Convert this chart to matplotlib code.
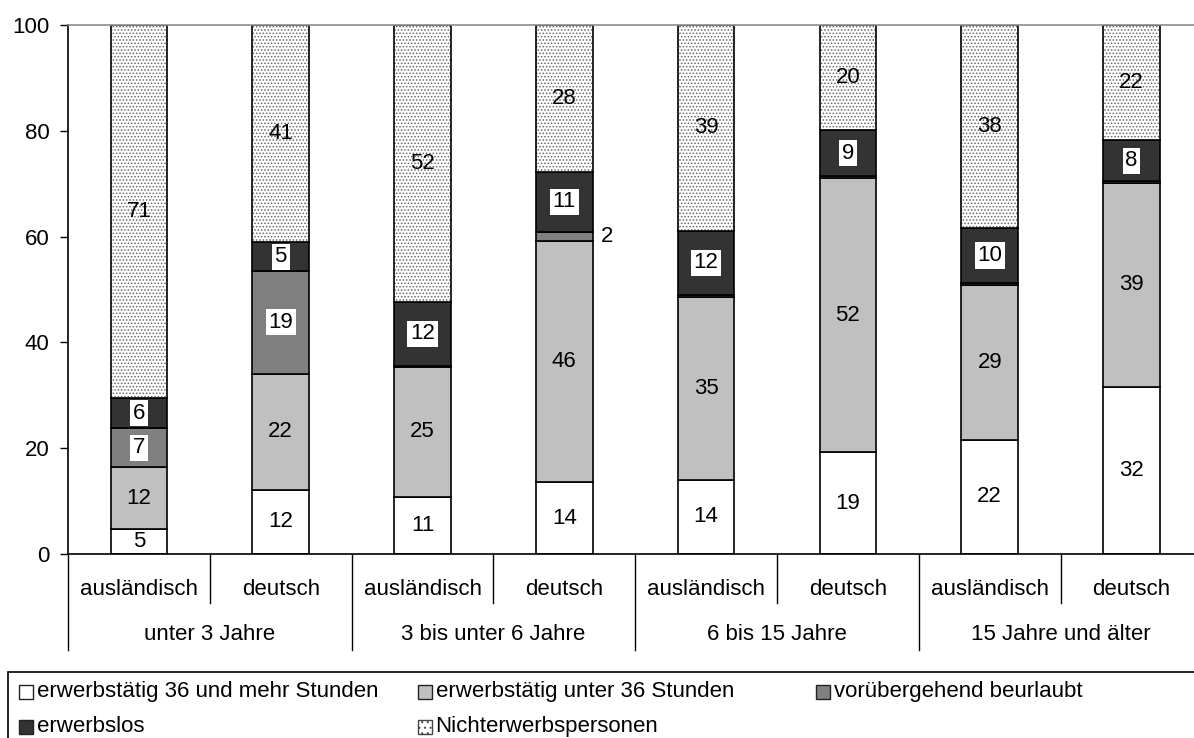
import matplotlib
matplotlib.use('Agg')
import matplotlib.pyplot as plt
from matplotlib.patches import Rectangle
import numpy as np

plt.rcParams['font.family'] = ['Liberation Sans', 'DejaVu Sans']
plt.rcParams['hatch.linewidth'] = 0.7

# Daten (Anteile in %)
gruppen = ['unter 3 Jahre', '3 bis unter 6 Jahre', '6 bis 15 Jahre', '15 Jahre und älter']
herkunft = ['ausländisch', 'deutsch']

voll = [4.7, 12.1, 10.8, 13.6, 14.0, 19.2, 21.6, 31.6]
teil = [11.7, 22.0, 24.6, 45.6, 34.6, 51.8, 29.2, 38.6]
beurl = [7.4, 19.4, 0.2, 1.7, 0.4, 0.4, 0.4, 0.3]
los = [5.6, 5.4, 12.0, 11.4, 12.1, 8.8, 10.4, 7.7]
nicht = [70.6, 41.1, 52.4, 27.7, 38.9, 19.8, 38.4, 21.8]

namen = ['erwerbstätig 36 und mehr Stunden', 'erwerbstätig unter 36 Stunden',
         'vorübergehend beurlaubt', 'erwerbslos', 'Nichterwerbspersonen']
farben = ['white', '#c0c0c0', '#808080', '#333333', 'white']

fs = 16
W, H = 1194, 738
fig = plt.figure(figsize=(W / 100, H / 100), dpi=100)
ax = fig.add_axes([68 / W, 184 / H, 1134.4 / W, 529 / H])

x = np.arange(8) + 0.5
bw = 0.40
serien = [voll, teil, beurl, los, nicht]
unten = np.zeros(8)
for i, werte in enumerate(serien):
    werte = np.array(werte)
    if i == 4:
        # punktiertes Muster
        ax.bar(x, werte, bw, bottom=unten, color='white', hatch='.....',
               edgecolor='#666666', linewidth=0)
        ax.bar(x, werte, bw, bottom=unten, fill=False, edgecolor='black', linewidth=1.2)
    else:
        ax.bar(x, werte, bw, bottom=unten, color=farben[i], edgecolor='black', linewidth=1.2)
    for k in range(8):
        v = werte[k]
        mitte = unten[k] + v / 2
        if v < 1:
            continue
        if v < 3:
            ax.text(x[k] + bw / 2 + 0.105, mitte, f'{v:.0f}', ha='center', va='center', fontsize=fs)
        elif i in (2, 3):
            ax.text(x[k], mitte, f'{v:.0f}', ha='center', va='center', fontsize=fs,
                    bbox=dict(facecolor='white', edgecolor='none', pad=2))
        else:
            ax.text(x[k], mitte, f'{v:.0f}', ha='center', va='center', fontsize=fs)
    unten += werte

ax.set_xlim(0, 8)
ax.set_ylim(0, 100)
ax.set_yticks(range(0, 101, 20))
ax.set_xticks([])
ax.tick_params(axis='y', direction='out', length=5.5, width=1, pad=8, labelsize=fs)
ax.spines['right'].set_visible(False)
ax.spines['top'].set_color('#8c8c8c')
ax.spines['top'].set_linewidth(1.2)
ax.spines['left'].set_linewidth(1.2)
ax.spines['bottom'].set_linewidth(1.2)

# zweistufige Achsenbeschriftung
tr = ax.get_xaxis_transform()
for k in range(8):
    ax.text(x[k], -0.068, herkunft[k % 2], ha='center', va='center', fontsize=fs, transform=tr)
for g in range(4):
    ax.text(2 * g + 1, -0.153, gruppen[g], ha='center', va='center', fontsize=fs, transform=tr)
for s in [1, 3, 5, 7]:
    ax.plot([s, s], [0, -0.0926], color='black', lw=1, transform=tr, clip_on=False)
for s in [0, 2, 4, 6, 8]:
    ax.plot([s, s], [0, -0.1815], color='black', lw=1, transform=tr, clip_on=False)

# Legende
fig.add_artist(Rectangle((8 / W, -0.05), 1.2, 66.3 / H + 0.05, transform=fig.transFigure,
                         fill=False, edgecolor='black', lw=1.2))
zeilen = [691.7, 726.7]
for n, name in enumerate(namen):
    spalte, zeile = n % 3, n // 3
    xl = 19 + 398.5 * spalte
    yc = H - zeilen[zeile]
    if n == 4:
        fig.add_artist(Rectangle((xl / W, (yc - 7) / H), 14 / W, 14 / H, transform=fig.transFigure,
                                 facecolor='white', hatch='...', edgecolor='#444444', lw=1))
    else:
        fig.add_artist(Rectangle((xl / W, (yc - 7) / H), 14 / W, 14 / H, transform=fig.transFigure,
                                 facecolor=farben[n], edgecolor='#222222', lw=1))
    fig.text((xl + 18) / W, yc / H, name, ha='left', va='center', fontsize=fs)

fig.savefig('out.png', dpi=100)
